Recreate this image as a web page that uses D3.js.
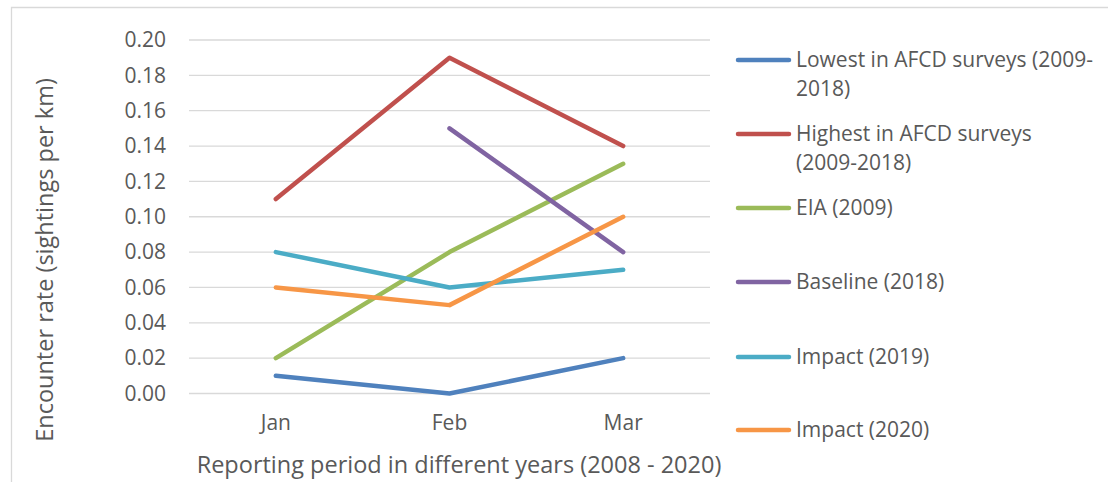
<!doctype html>
<html lang="en">
<head>
<meta charset="UTF-8">
<title>Encounter rate</title>
<script src="https://d3js.org/d3.v7.min.js"></script>
<style>
body { margin: 0; background: #fff; }
svg { display: block; }
text { font-family: "Open Sans", sans-serif; fill: #595959; }
.grid line { stroke: #d9d9d9; stroke-width: 1.3; }
</style>
</head>
<body>
<div id="plot"></div>
<script>

var width = 1108;
var height = 482;

var months = ["Jan", "Feb", "Mar"];
var yTicks = [0, 0.02, 0.04, 0.06, 0.08, 0.10, 0.12, 0.14, 0.16, 0.18, 0.20];

var seriesNames = [
	["Lowest in AFCD surveys (2009-", "2018)"],
	["Highest in AFCD surveys", "(2009-2018)"],
	["EIA (2009)"],
	["Baseline (2018)"],
	["Impact (2019)"],
	["Impact (2020)"]
];
var seriesColors = ["#4f81bd", "#c0504d", "#9bbb59", "#8064a2", "#4bacc6", "#f79646"];

var lowest = [0.01, 0.00, 0.02];
var highest = [0.11, 0.19, 0.14];
var eia = [0.02, 0.08, 0.13];
var baseline = [null, 0.15, 0.08];
var impact2019 = [0.08, 0.06, 0.07];
var impact2020 = [0.06, 0.05, 0.10];

var allSeries = [lowest, highest, eia, baseline, impact2019, impact2020];

var svg = d3.select("#plot").append("svg")
	.attr("width", width)
	.attr("height", height);

// chart frame (only top and left edges are visible in the picture)
svg.append("path")
	.attr("d", "M11.5," + height + "V7.5H" + width)
	.style("fill", "none")
	.style("stroke", "#d9d9d9")
	.style("stroke-width", 1.3);

var xScale = d3.scaleBand().domain(months).range([189, 710]);
var yScale = d3.scaleLinear().domain([0, 0.2]).range([393.5, 40]);

// gridlines
svg.append("g")
	.attr("class", "grid")
	.selectAll("line")
	.data(yTicks)
	.enter().append("line")
	.attr("x1", 189)
	.attr("x2", 710)
	.attr("y1", function (d) { return yScale(d); })
	.attr("y2", function (d) { return yScale(d); });

// y axis labels
var yAxis = d3.axisLeft(yScale).tickValues(yTicks).tickFormat(d3.format(".2f")).tickSize(0).tickPadding(23);
var gy = svg.append("g")
	.attr("transform", "translate(189,0)")
	.call(yAxis);
gy.select(".domain").remove();
gy.selectAll("text")
	.style("font-size", "21px")
	.style("fill", "#595959")
	.style("font-family", "'Open Sans', sans-serif");

// x axis labels
var xAxis = d3.axisBottom(xScale).tickSize(0).tickPadding(22);
var gx = svg.append("g")
	.attr("transform", "translate(0,393.5)")
	.call(xAxis);
gx.select(".domain").remove();
gx.selectAll("text")
	.style("font-size", "21px")
	.style("fill", "#595959")
	.style("font-family", "'Open Sans', sans-serif");

// lines
var line = d3.line()
	.defined(function (d) { return d != null; })
	.x(function (d, i) { return xScale(months[i]) + xScale.bandwidth() / 2; })
	.y(function (d) { return yScale(d); });

allSeries.forEach(function (s, i) {
	svg.append("path")
		.attr("d", line(s))
		.style("fill", "none")
		.style("stroke", seriesColors[i])
		.style("stroke-width", 4.5)
		.style("stroke-linecap", "round")
		.style("stroke-linejoin", "round");
});

// axis titles
svg.append("text")
	.attr("x", 459)
	.attr("y", 473)
	.attr("text-anchor", "middle")
	.style("font-size", "23.5px")
	.text("Reporting period in different years (2008 - 2020)");

svg.append("text")
	.attr("transform", "translate(53,260) rotate(-90)")
	.attr("text-anchor", "middle")
	.style("font-size", "23.5px")
	.text("Encounter rate (sightings per km)");

// legend
var legendY = [60, 134, 208, 282, 357, 430];
var legend = svg.append("g");
seriesNames.forEach(function (name, i) {
	var g = legend.append("g").attr("transform", "translate(0," + legendY[i] + ")");
	g.append("line")
		.attr("x1", 738).attr("x2", 789)
		.attr("y1", 0).attr("y2", 0)
		.style("stroke", seriesColors[i])
		.style("stroke-width", 4.5)
		.style("stroke-linecap", "round");
	name.forEach(function (t, j) {
		g.append("text")
			.attr("x", 796)
			.attr("y", 7 + j * 29)
			.style("font-size", "21px")
			.text(t);
	});
});

</script>
</body>
</html>
